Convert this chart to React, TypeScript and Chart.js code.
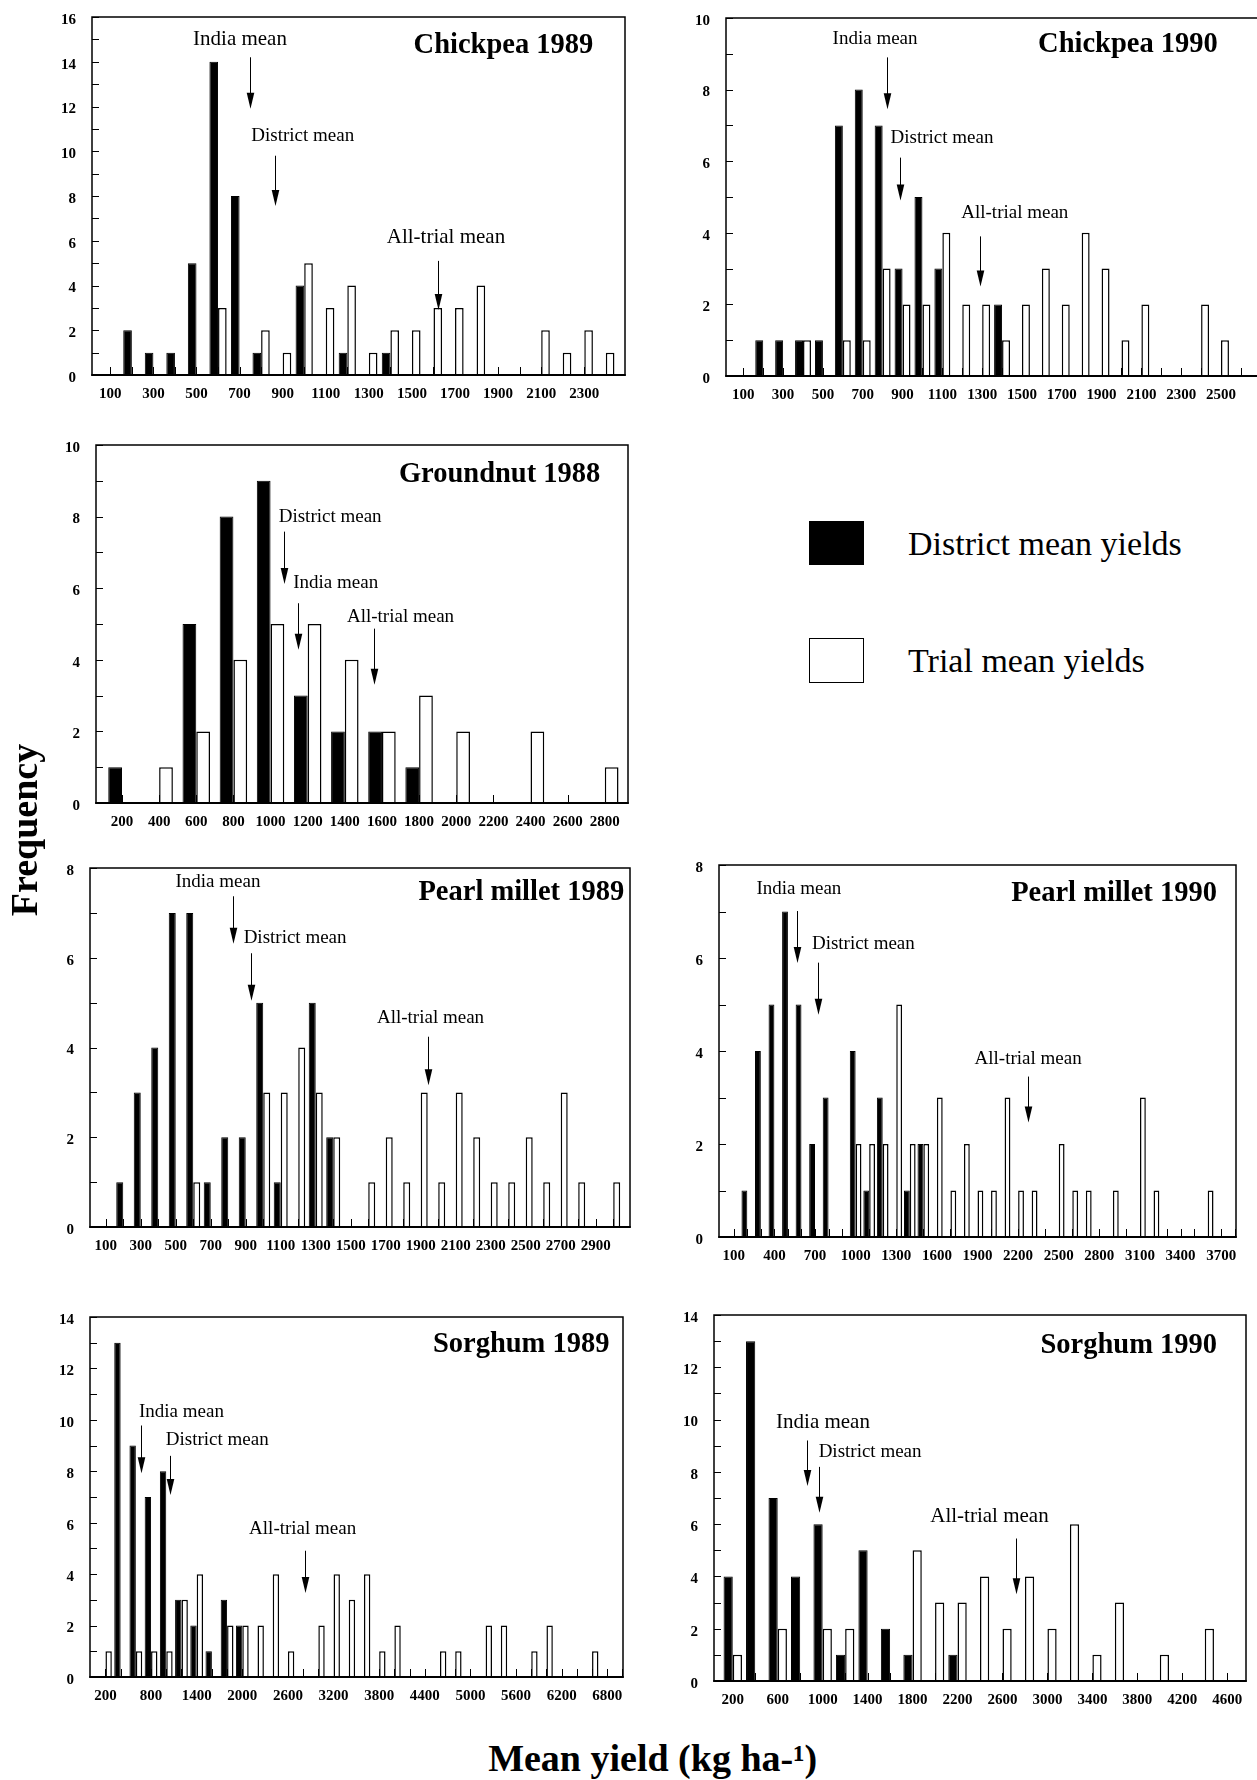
import React, { useEffect, useRef } from "react";
import { Chart, registerables } from "chart.js";

Chart.register(...registerables);

const SERIF = "'Liberation Serif', 'Times New Roman', Times, serif";

// ---------------- data (bin centre in kg/ha, frequency) ----------------
// Chickpea 1989
const chickpea1989DistrictBins = [200, 300, 400, 500, 600, 700, 800, 1000, 1200, 1400];
const chickpea1989DistrictFreq = [2, 1, 1, 5, 14, 8, 1, 4, 1, 1];
const chickpea1989TrialBins = [600, 800, 900, 1000, 1100, 1200, 1300, 1400, 1500, 1600, 1700, 1800, 2100, 2200, 2300, 2400];
const chickpea1989TrialFreq = [3, 2, 1, 5, 3, 4, 1, 2, 2, 3, 3, 4, 2, 1, 2, 1];
const chickpea1989Labels = [100, 300, 500, 700, 900, 1100, 1300, 1500, 1700, 1900, 2100, 2300];

// Chickpea 1990
const chickpea1990DistrictBins = [200, 300, 400, 500, 600, 700, 800, 900, 1000, 1100, 1400];
const chickpea1990DistrictFreq = [1, 1, 1, 1, 7, 8, 7, 3, 5, 3, 2];
const chickpea1990TrialBins = [400, 600, 700, 800, 900, 1000, 1100, 1200, 1300, 1400, 1500, 1600, 1700, 1800, 1900, 2000, 2100, 2400, 2500];
const chickpea1990TrialFreq = [1, 1, 1, 3, 2, 2, 4, 2, 2, 1, 2, 3, 2, 4, 3, 1, 2, 2, 1];
const chickpea1990Labels = [100, 300, 500, 700, 900, 1100, 1300, 1500, 1700, 1900, 2100, 2300, 2500];

// Groundnut 1988
const groundnut1988DistrictBins = [200, 600, 800, 1000, 1200, 1400, 1600, 1800];
const groundnut1988DistrictFreq = [1, 5, 8, 9, 3, 2, 2, 1];
const groundnut1988TrialBins = [400, 600, 800, 1000, 1200, 1400, 1600, 1800, 2000, 2400, 2800];
const groundnut1988TrialFreq = [1, 2, 4, 5, 5, 4, 2, 3, 2, 2, 1];
const groundnut1988Labels = [200, 400, 600, 800, 1000, 1200, 1400, 1600, 1800, 2000, 2200, 2400, 2600, 2800];

// Pearl millet 1989
const pearlMillet1989DistrictBins = [200, 300, 400, 500, 600, 700, 800, 900, 1000, 1100, 1300, 1400];
const pearlMillet1989DistrictFreq = [1, 3, 4, 7, 7, 1, 2, 2, 5, 1, 5, 2];
const pearlMillet1989TrialBins = [600, 1000, 1100, 1200, 1300, 1400, 1600, 1700, 1800, 1900, 2000, 2100, 2200, 2300, 2400, 2500, 2600, 2700, 2800, 3000];
const pearlMillet1989TrialFreq = [1, 3, 3, 4, 3, 2, 1, 2, 1, 3, 1, 3, 2, 1, 1, 2, 1, 3, 1, 1];
const pearlMillet1989Labels = [100, 300, 500, 700, 900, 1100, 1300, 1500, 1700, 1900, 2100, 2300, 2500, 2700, 2900];

// Pearl millet 1990
const pearlMillet1990DistrictBins = [200, 300, 400, 500, 600, 700, 800, 1000, 1100, 1200, 1400, 1500];
const pearlMillet1990DistrictFreq = [1, 4, 5, 7, 5, 2, 3, 4, 1, 3, 1, 2];
const pearlMillet1990TrialBins = [1000, 1100, 1200, 1300, 1400, 1500, 1600, 1700, 1800, 1900, 2000, 2100, 2200, 2300, 2500, 2600, 2700, 2900, 3100, 3200, 3600];
const pearlMillet1990TrialFreq = [2, 2, 2, 5, 2, 2, 3, 1, 2, 1, 1, 3, 1, 1, 2, 1, 1, 1, 3, 1, 1];
const pearlMillet1990Labels = [100, 400, 700, 1000, 1300, 1600, 1900, 2200, 2500, 2800, 3100, 3400, 3700];

// Sorghum 1989
const sorghum1989DistrictBins = [400, 600, 800, 1000, 1200, 1400, 1600, 1800, 2000];
const sorghum1989DistrictFreq = [13, 9, 7, 8, 3, 2, 1, 3, 2];
const sorghum1989TrialBins = [200, 600, 800, 1000, 1200, 1400, 1800, 2000, 2200, 2400, 2600, 3000, 3200, 3400, 3600, 3800, 4000, 4600, 4800, 5200, 5400, 5800, 6000, 6600];
const sorghum1989TrialFreq = [1, 1, 1, 1, 3, 4, 2, 2, 2, 4, 1, 2, 4, 3, 4, 1, 2, 1, 1, 2, 2, 1, 2, 1];
const sorghum1989Labels = [200, 800, 1400, 2000, 2600, 3200, 3800, 4400, 5000, 5600, 6200, 6800];

// Sorghum 1990
const sorghum1990DistrictBins = [200, 400, 600, 800, 1000, 1200, 1400, 1600, 1800, 2200];
const sorghum1990DistrictFreq = [4, 13, 7, 4, 6, 1, 5, 2, 1, 1];
const sorghum1990TrialBins = [200, 600, 1000, 1200, 1800, 2000, 2200, 2400, 2600, 2800, 3000, 3200, 3400, 3600, 4000, 4400];
const sorghum1990TrialFreq = [1, 2, 2, 2, 5, 3, 3, 4, 2, 4, 2, 6, 1, 3, 1, 2];
const sorghum1990Labels = [200, 600, 1000, 1400, 1800, 2200, 2600, 3000, 3400, 3800, 4200, 4600];

// ---------------- panel configuration ----------------
type Note = { text: string; tx: number; ty: number; size: number; ax: number; top: number; tip: number };

interface PanelDef {
  id: string;
  title: string;
  titleX: number;
  titleY: number;
  dBins: number[];
  dFreq: number[];
  tBins: number[];
  tFreq: number[];
  labels: number[];
  tickStart: number;
  tickEnd: number;
  tickStep: number;
  xMin: number;
  xMax: number;
  yMax: number;
  catPct: number;
  notes: Note[];
  box: [number, number, number, number];
}

const panels: PanelDef[] = [
  {
    id: "c89", title: "Chickpea 1989", titleX: 2342, titleY: 14.73,
    dBins: chickpea1989DistrictBins, dFreq: chickpea1989DistrictFreq,
    tBins: chickpea1989TrialBins, tFreq: chickpea1989TrialFreq,
    labels: chickpea1989Labels, tickStart: 100, tickEnd: 2400, tickStep: 100,
    xMin: 15, xMax: 2489, yMax: 16, catPct: 0.8,
    notes: [
      { text: "India mean", tx: 702, ty: 15.0, size: 21, ax: 748, top: 14.2, tip: 11.9 },
      { text: "District mean", tx: 993, ty: 10.67, size: 19, ax: 865, top: 9.8, tip: 7.55 },
      { text: "All-trial mean", tx: 1658, ty: 6.15, size: 21, ax: 1620, top: 5.1, tip: 2.9 },
    ],
    box: [92, 17, 625, 375],
  },
  {
    id: "c90", title: "Chickpea 1990", titleX: 2484, titleY: 9.26,
    dBins: chickpea1990DistrictBins, dFreq: chickpea1990DistrictFreq,
    tBins: chickpea1990TrialBins, tFreq: chickpea1990TrialFreq,
    labels: chickpea1990Labels, tickStart: 100, tickEnd: 2600, tickStep: 100,
    xMin: 13, xMax: 2706, yMax: 10, catPct: 0.8,
    notes: [
      { text: "India mean", tx: 762, ty: 9.4, size: 19, ax: 823, top: 8.9, tip: 7.45 },
      { text: "District mean", tx: 1098, ty: 6.65, size: 19, ax: 886, top: 6.1, tip: 4.9 },
      { text: "All-trial mean", tx: 1464, ty: 4.56, size: 19, ax: 1289, top: 3.9, tip: 2.5 },
    ],
    box: [726, 18, 1262, 376],
  },
  {
    id: "g88", title: "Groundnut 1988", titleX: 2776, titleY: 9.16,
    dBins: groundnut1988DistrictBins, dFreq: groundnut1988DistrictFreq,
    tBins: groundnut1988TrialBins, tFreq: groundnut1988TrialFreq,
    labels: groundnut1988Labels, tickStart: 200, tickEnd: 2800, tickStep: 200,
    xMin: 60, xMax: 2925, yMax: 10, catPct: 0.74,
    notes: [
      { text: "District mean", tx: 1321, ty: 7.98, size: 19, ax: 1070, top: 7.58, tip: 6.12 },
      { text: "India mean", tx: 1351, ty: 6.14, size: 19, ax: 1148, top: 5.58, tip: 4.28 },
      { text: "All-trial mean", tx: 1700, ty: 5.19, size: 19, ax: 1557, top: 4.87, tip: 3.3 },
    ],
    box: [96, 445, 628, 803],
  },
  {
    id: "p89", title: "Pearl millet 1989", titleX: 3063, titleY: 7.44,
    dBins: pearlMillet1989DistrictBins, dFreq: pearlMillet1989DistrictFreq,
    tBins: pearlMillet1989TrialBins, tFreq: pearlMillet1989TrialFreq,
    labels: pearlMillet1989Labels, tickStart: 100, tickEnd: 3000, tickStep: 100,
    xMin: 10, xMax: 3096, yMax: 8, catPct: 0.8,
    notes: [
      { text: "India mean", tx: 741, ty: 7.69, size: 19, ax: 825, top: 7.37, tip: 6.31 },
      { text: "District mean", tx: 1182, ty: 6.44, size: 19, ax: 932, top: 6.1, tip: 5.04 },
      { text: "All-trial mean", tx: 1956, ty: 4.65, size: 19, ax: 1941, top: 4.24, tip: 3.16 },
    ],
    box: [90, 868, 630, 1227],
  },
  {
    id: "p90", title: "Pearl millet 1990", titleX: 3668, titleY: 7.39,
    dBins: pearlMillet1990DistrictBins, dFreq: pearlMillet1990DistrictFreq,
    tBins: pearlMillet1990TrialBins, tFreq: pearlMillet1990TrialFreq,
    labels: pearlMillet1990Labels, tickStart: 100, tickEnd: 3800, tickStep: 100,
    xMin: -9, xMax: 3809, yMax: 8, catPct: 0.86,
    notes: [
      { text: "India mean", tx: 581, ty: 7.48, size: 19, ax: 570, top: 7.01, tip: 5.89 },
      { text: "District mean", tx: 1057, ty: 6.3, size: 19, ax: 725, top: 5.9, tip: 4.78 },
      { text: "All-trial mean", tx: 2274, ty: 3.83, size: 19, ax: 2274, top: 3.45, tip: 2.46 },
    ],
    box: [719, 865, 1236, 1237],
  },
  {
    id: "s89", title: "Sorghum 1989", titleX: 6829, titleY: 12.92,
    dBins: sorghum1989DistrictBins, dFreq: sorghum1989DistrictFreq,
    tBins: sorghum1989TrialBins, tFreq: sorghum1989TrialFreq,
    labels: sorghum1989Labels, tickStart: 200, tickEnd: 7000, tickStep: 200,
    xMin: -3, xMax: 7007, yMax: 14, catPct: 0.84,
    notes: [
      { text: "India mean", tx: 1200, ty: 10.29, size: 19, ax: 670, top: 9.78, tip: 7.92 },
      { text: "District mean", tx: 1670, ty: 9.22, size: 19, ax: 1051, top: 8.6, tip: 7.08 },
      { text: "All-trial mean", tx: 2794, ty: 5.74, size: 19, ax: 2824, top: 4.91, tip: 3.27 },
    ],
    box: [90, 1317, 623, 1677],
  },
  {
    id: "s90", title: "Sorghum 1990", titleX: 4509, titleY: 12.84,
    dBins: sorghum1990DistrictBins, dFreq: sorghum1990DistrictFreq,
    tBins: sorghum1990TrialBins, tFreq: sorghum1990TrialFreq,
    labels: sorghum1990Labels, tickStart: 200, tickEnd: 4600, tickStep: 200,
    xMin: 33, xMax: 4767, yMax: 14, catPct: 0.82,
    notes: [
      { text: "India mean", tx: 1003, ty: 9.87, size: 21, ax: 865, top: 9.2, tip: 7.46 },
      { text: "District mean", tx: 1422, ty: 8.76, size: 19, ax: 963, top: 8.19, tip: 6.44 },
      { text: "All-trial mean", tx: 2484, ty: 6.28, size: 21, ax: 2716, top: 5.45, tip: 3.32 },
    ],
    box: [714, 1315, 1246, 1681],
  },
];

const PADL = 50;
const PADT = 16;
const PADR = 16;
const PADB = 36;

function overlayPlugin(p: PanelDef) {
  return {
    id: "overlay_" + p.id,
    beforeDatasetsDraw(chart: any) {
      const { ctx, chartArea: a, scales } = chart;
      const xs = scales.x;
      const ys = scales.y;
      ctx.save();
      ctx.strokeStyle = "#000";
      ctx.lineWidth = 1;
      ctx.beginPath();
      xs.ticks.forEach((t: any) => {
        const px = Math.round(xs.getPixelForValue(t.value)) + 0.5;
        ctx.moveTo(px, a.bottom);
        ctx.lineTo(px, a.bottom - 8);
      });
      ys.ticks.forEach((t: any) => {
        const py = Math.round(ys.getPixelForValue(t.value)) + 0.5;
        ctx.moveTo(a.left, py);
        ctx.lineTo(a.left + 7, py);
      });
      ctx.stroke();
      ctx.restore();
    },
    afterDatasetsDraw(chart: any) {
      const { ctx, chartArea: a, scales } = chart;
      const xs = scales.x;
      const ys = scales.y;
      ctx.save();
      // frame
      ctx.strokeStyle = "#000";
      ctx.lineWidth = 1.5;
      ctx.strokeRect(a.left, a.top, a.right - a.left, a.bottom - a.top);
      ctx.lineWidth = 2;
      ctx.beginPath();
      ctx.moveTo(a.left - 0.75, a.bottom);
      ctx.lineTo(a.right + 0.75, a.bottom);
      ctx.stroke();
      // notes with arrows
      ctx.fillStyle = "#000";
      p.notes.forEach((n) => {
        ctx.font = `${n.size}px ${SERIF}`;
        ctx.textAlign = "center";
        ctx.textBaseline = "middle";
        ctx.fillText(n.text, xs.getPixelForValue(n.tx), ys.getPixelForValue(n.ty));
        const ax = Math.round(xs.getPixelForValue(n.ax)) + 0.5;
        const y1 = ys.getPixelForValue(n.top);
        const y2 = ys.getPixelForValue(n.tip);
        ctx.lineWidth = 1;
        ctx.beginPath();
        ctx.moveTo(ax, y1);
        ctx.lineTo(ax, y2 - 10);
        ctx.stroke();
        ctx.beginPath();
        ctx.moveTo(ax - 3.8, y2 - 16);
        ctx.lineTo(ax + 3.8, y2 - 16);
        ctx.lineTo(ax, y2);
        ctx.closePath();
        ctx.fill();
      });
      // title
      ctx.font = `bold 28.5px ${SERIF}`;
      ctx.textAlign = "right";
      ctx.textBaseline = "middle";
      ctx.fillText(p.title, xs.getPixelForValue(p.titleX), ys.getPixelForValue(p.titleY));
      ctx.restore();
    },
  };
}

function PanelChart({ p }: { p: PanelDef }) {
  const ref = useRef<HTMLCanvasElement>(null);
  const [l, t, r, b] = p.box;
  const w = r - l + PADL + PADR;
  const h = b - t + PADT + PADB;

  useEffect(() => {
    if (!ref.current) return;
    const xTickValues: number[] = [];
    for (let v = p.tickStart; v <= p.tickEnd + 0.001; v += p.tickStep) xTickValues.push(v);
    const yTickValues: number[] = [];
    for (let v = 0; v <= p.yMax; v += 1) yTickValues.push(v);
    const tickFont = { family: SERIF, size: 15, weight: "bold" as const };

    const chart = new Chart(ref.current, {
      type: "bar",
      data: {
        datasets: [
          {
            label: "District mean yields",
            data: p.dBins.map((x, i) => ({ x, y: p.dFreq[i] })),
            backgroundColor: "#000",
            borderColor: "#000",
            borderWidth: 1,
          },
          {
            label: "Trial mean yields",
            data: p.tBins.map((x, i) => ({ x, y: p.tFreq[i] })),
            backgroundColor: "#fff",
            borderColor: "#000",
            borderWidth: 1.5,
          },
        ],
      } as any,
      options: {
        responsive: false,
        animation: false,
        devicePixelRatio: 1,
        layout: { padding: { left: 0, top: PADT, right: PADR, bottom: 0 } },
        datasets: {
          bar: { categoryPercentage: p.catPct, barPercentage: 1, grouped: true, borderSkipped: "bottom" },
        },
        plugins: {
          legend: { display: false },
          tooltip: { enabled: false },
          title: { display: false },
        },
        scales: {
          x: {
            type: "linear",
            min: p.xMin,
            max: p.xMax,
            offset: false,
            grid: { display: false },
            border: { display: false },
            afterBuildTicks: (s: any) => {
              s.ticks = xTickValues.map((v) => ({ value: v }));
            },
            afterFit: (s: any) => {
              s.height = PADB;
              s.paddingLeft = 0;
              s.paddingRight = 0;
            },
            ticks: {
              autoSkip: false,
              maxRotation: 0,
              minRotation: 0,
              padding: 2.5,
              color: "#000",
              font: tickFont,
              callback: (v: any) => (p.labels.includes(Number(v)) ? String(v) : ""),
            },
          },
          y: {
            type: "linear",
            min: 0,
            max: p.yMax,
            grid: { display: false },
            border: { display: false },
            afterBuildTicks: (s: any) => {
              s.ticks = yTickValues.map((v) => ({ value: v }));
            },
            afterFit: (s: any) => {
              s.width = PADL;
              s.paddingTop = 0;
              s.paddingBottom = 0;
            },
            ticks: {
              autoSkip: false,
              padding: 8,
              labelOffset: 3,
              color: "#000",
              font: tickFont,
              callback: (v: any) => (Number(v) % 2 === 0 ? String(v) : ""),
            },
          },
        },
      } as any,
      plugins: [overlayPlugin(p)],
    });
    return () => chart.destroy();
  }, []);

  return (
    <canvas
      ref={ref}
      width={w}
      height={h}
      style={{ position: "absolute", left: l - PADL, top: t - PADT, width: w, height: h }}
    />
  );
}

export default function App() {
  return (
    <div
      style={{
        position: "absolute",
        left: 0,
        top: 0,
        width: 1257,
        height: 1780,
        overflow: "hidden",
        background: "#fff",
        color: "#000",
      }}
    >
      {panels.map((p) => (
        <PanelChart key={p.id} p={p} />
      ))}

      {/* legend */}
      <div style={{ position: "absolute", left: 809, top: 521, width: 55, height: 44, background: "#000" }} />
      <div
        style={{
          position: "absolute",
          left: 809,
          top: 638,
          width: 55,
          height: 45,
          boxSizing: "border-box",
          border: "1.5px solid #000",
          background: "#fff",
        }}
      />
      <div
        style={{
          position: "absolute",
          left: 908,
          top: 526.5,
          fontFamily: SERIF,
          fontSize: 34,
          lineHeight: "34px",
          whiteSpace: "nowrap",
        }}
      >
        District mean yields
      </div>
      <div
        style={{
          position: "absolute",
          left: 908,
          top: 644,
          fontFamily: SERIF,
          fontSize: 34,
          lineHeight: "34px",
          whiteSpace: "nowrap",
        }}
      >
        Trial mean yields
      </div>

      {/* axis titles */}
      <div
        style={{
          position: "absolute",
          left: 23.7 - 150,
          top: 830 - 19,
          width: 300,
          textAlign: "center",
          fontFamily: SERIF,
          fontWeight: "bold",
          fontSize: 38,
          lineHeight: "38px",
          whiteSpace: "nowrap",
          transform: "rotate(-90deg)",
        }}
      >
        Frequency
      </div>
      <div
        style={{
          position: "absolute",
          left: 652.7 - 300,
          top: 1739.2,
          width: 600,
          textAlign: "center",
          fontFamily: SERIF,
          fontWeight: "bold",
          fontSize: 38,
          lineHeight: "38px",
          whiteSpace: "nowrap",
        }}
      >
        Mean yield (kg ha-¹)
      </div>
    </div>
  );
}
